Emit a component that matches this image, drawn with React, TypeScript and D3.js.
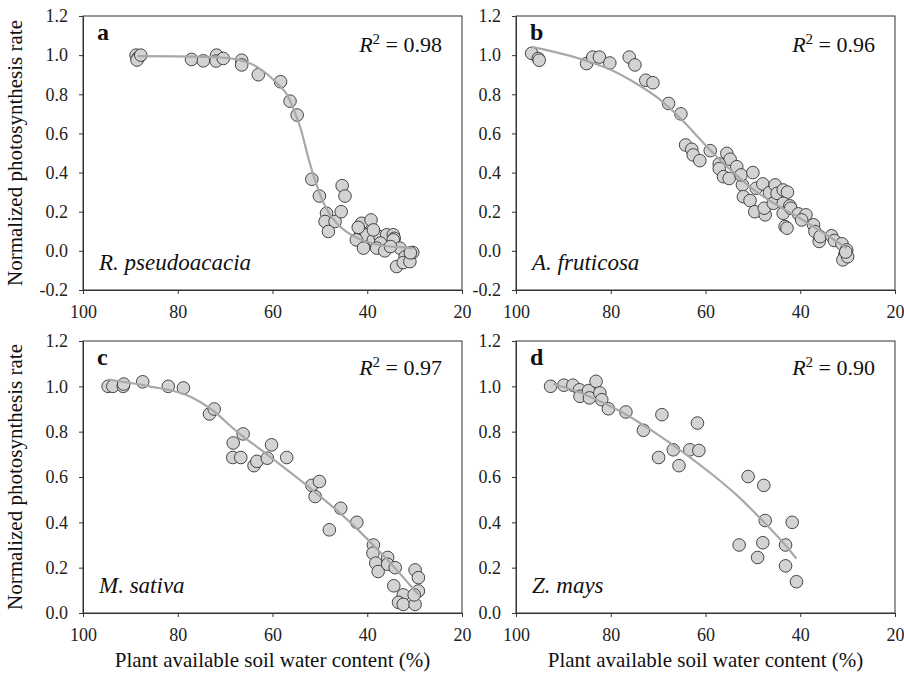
import React, { useEffect, useRef } from 'react';
import * as d3 from 'd3';

// x: plant available soil water content (%), y: normalized photosynthesis rate
const xTicks = [100, 80, 60, 40, 20];
const yTicksTop = [-0.2, 0, 0.2, 0.4, 0.6, 0.8, 1.0, 1.2];
const yTicksBottom = [0, 0.2, 0.4, 0.6, 0.8, 1.0, 1.2];

const pointsA = [
  [88.8, 1.0], [88.4, 0.985], [88.0, 0.995], [88.6, 0.975], [87.8, 1.0],
  [77.1, 0.978], [74.6, 0.971], [71.8, 1.0], [71.9, 0.97], [70.4, 0.983],
  [66.5, 0.974], [66.5, 0.95], [63.0, 0.9], [58.3, 0.864], [56.3, 0.765],
  [54.8, 0.694], [51.7, 0.366], [50.1, 0.28], [45.3, 0.333], [44.7, 0.28],
  [48.6, 0.192], [48.9, 0.15], [46.8, 0.15], [48.2, 0.099], [45.5, 0.2],
  [41.2, 0.141], [39.2, 0.158], [41.4, 0.099], [40.1, 0.082], [42.3, 0.056],
  [40.8, 0.014], [38.7, 0.056], [37.3, 0.073], [35.9, 0.082], [34.5, 0.082],
  [34.3, 0.064], [37.2, 0.04], [38.0, 0.014], [36.3, 0.0], [34.5, 0.056],
  [33.1, 0.014], [32.0, -0.03], [33.8, -0.08], [32.4, -0.06], [31.0, -0.055],
  [30.4, -0.008], [30.9, -0.01], [35.1, 0.022], [38.7, 0.107], [41.9, 0.12],
];
const fitA = [
  [88.5, 0.995], [80, 0.994], [72, 0.99], [67, 0.975], [64, 0.95], [61.5, 0.91],
  [59, 0.855], [57, 0.8], [55.5, 0.72], [54, 0.62], [52.5, 0.48], [51, 0.36],
  [49.5, 0.26], [48, 0.19], [46.4, 0.14], [44.5, 0.1], [42, 0.065],
  [38.7, 0.036], [34, 0.02], [30.4, 0.014],
];

const pointsB = [
  [96.7, 1.009], [95.3, 0.983], [95.1, 0.974], [85.1, 0.957], [83.8, 0.99],
  [82.4, 0.99], [80.2, 0.96], [76.1, 0.99], [74.9, 0.95], [72.6, 0.872],
  [71.1, 0.859], [67.8, 0.753], [65.2, 0.7], [64.2, 0.541], [62.9, 0.519],
  [62.6, 0.49], [61.2, 0.461], [59.0, 0.512], [55.5, 0.498], [54.8, 0.468],
  [57.1, 0.444], [57.1, 0.42], [56.2, 0.379], [55.0, 0.37], [53.4, 0.43],
  [52.2, 0.337], [52.5, 0.388], [50.0, 0.4], [52.0, 0.277], [50.6, 0.257],
  [49.3, 0.32], [47.9, 0.342], [49.6, 0.2], [47.4, 0.184], [47.6, 0.218],
  [46.5, 0.298], [45.7, 0.243], [45.3, 0.337], [44.9, 0.294], [43.6, 0.311],
  [42.7, 0.3], [43.6, 0.243], [42.2, 0.23], [43.6, 0.192], [43.2, 0.124],
  [42.8, 0.116], [42.0, 0.218], [40.4, 0.189], [38.8, 0.184], [39.7, 0.158],
  [37.2, 0.133], [36.9, 0.099], [36.0, 0.048], [35.8, 0.073], [33.4, 0.077],
  [32.8, 0.053], [31.2, 0.036], [30.2, 0.005], [30.6, -0.02], [31.0, -0.046],
  [30.0, -0.03], [30.4, -0.006],
];
const fitB = [
  [96.7, 1.042], [90, 1.005], [85, 0.97], [80, 0.925], [75, 0.86], [70, 0.78],
  [65, 0.67], [60, 0.54], [55, 0.42], [50, 0.315], [45, 0.235], [40, 0.165],
  [35, 0.09], [30.2, 0.014],
];

const pointsC = [
  [94.7, 1.0], [93.7, 1.0], [91.5, 1.0], [91.4, 1.01], [87.4, 1.02],
  [82.0, 1.0], [78.8, 0.993], [73.3, 0.878], [72.3, 0.9], [68.3, 0.75],
  [66.2, 0.79], [68.4, 0.686], [66.7, 0.686], [63.9, 0.65], [63.3, 0.669],
  [61.1, 0.683], [60.2, 0.742], [57.0, 0.686], [51.7, 0.563], [50.1, 0.58],
  [51.0, 0.514], [45.6, 0.462], [48.0, 0.367], [42.2, 0.4], [38.7, 0.3],
  [38.8, 0.264], [38.2, 0.22], [37.7, 0.183], [35.7, 0.245], [35.7, 0.215],
  [34.1, 0.2], [34.4, 0.12], [32.4, 0.08], [33.4, 0.047], [32.4, 0.038],
  [29.9, 0.19], [29.2, 0.156], [29.2, 0.097], [29.9, 0.038], [30.1, 0.08],
];
const fitC = [
  [94.7, 1.03], [86, 1.0], [77.4, 0.955], [73, 0.9], [67.5, 0.8], [61.2, 0.7],
  [52, 0.55], [43.6, 0.4], [36, 0.24], [29.2, 0.08],
];

const pointsD = [
  [92.7, 1.0], [89.9, 1.005], [88.0, 1.005], [86.6, 0.985], [86.5, 0.956],
  [84.7, 0.981], [84.5, 0.949], [83.1, 1.022], [82.3, 0.971], [81.9, 0.941],
  [80.5, 0.901], [76.8, 0.887], [73.1, 0.806], [69.2, 0.875], [69.9, 0.686],
  [66.8, 0.72], [65.6, 0.65], [63.3, 0.72], [61.4, 0.717], [61.7, 0.838],
  [51.0, 0.602], [47.7, 0.563], [47.4, 0.408], [41.7, 0.4], [52.9, 0.3],
  [47.9, 0.31], [49.0, 0.245], [43.1, 0.3], [43.1, 0.208], [40.8, 0.138],
];
const fitD = [
  [92.1, 1.01], [85, 0.96], [78, 0.89], [71, 0.8], [64, 0.698], [58.5, 0.61],
  [53.4, 0.52], [47.8, 0.404], [44, 0.32], [40.8, 0.24],
];

const FONT = '"Liberation Serif", "Times New Roman", Times, "DejaVu Serif", serif';

const panels = [
  { letter: 'a', species: 'R. pseudoacacia', r2: '0.98', points: pointsA, fit: fitA,
    left: 83, top: 16, width: 379, height: 274, yTicks: yTicksTop },
  { letter: 'b', species: 'A. fruticosa', r2: '0.96', points: pointsB, fit: fitB,
    left: 516, top: 16, width: 379, height: 274, yTicks: yTicksTop },
  { letter: 'c', species: 'M. sativa', r2: '0.97', points: pointsC, fit: fitC,
    left: 83, top: 341, width: 379, height: 272, yTicks: yTicksBottom },
  { letter: 'd', species: 'Z. mays', r2: '0.90', points: pointsD, fit: fitD,
    left: 516, top: 341, width: 379, height: 272, yTicks: yTicksBottom },
];

function drawPanel(svg: any, p: any) {
  const x = d3.scaleLinear().domain([100, 20]).range([0, p.width]);
  const yt = p.yTicks;
  const y = d3.scaleLinear().domain([yt[0], yt[yt.length - 1]]).range([p.height, 0]);

  const g = svg.append('g').attr('transform', `translate(${p.left},${p.top})`);

  // frame
  g.append('rect')
    .attr('width', p.width)
    .attr('height', p.height)
    .attr('fill', 'none')
    .attr('stroke', '#333')
    .attr('stroke-width', 1);

  const xAxis = g.append('g')
    .attr('transform', `translate(0,${p.height})`)
    .call(d3.axisBottom(x).tickValues(xTicks).tickSize(4).tickSizeOuter(0).tickPadding(11)
      .tickFormat((d: any) => String(d)));
  const yAxis = g.append('g')
    .call(d3.axisLeft(y).tickValues(yt).tickSize(4).tickSizeOuter(0).tickPadding(11)
      .tickFormat((d: any) => (+d).toFixed(1)));

  [xAxis, yAxis].forEach(ax => {
    ax.attr('font-family', null).attr('font-size', null);
    ax.select('.domain').attr('stroke', '#333');
    ax.selectAll('line').attr('stroke', '#333');
    ax.selectAll('text')
      .attr('fill', '#222')
      .attr('font-family', FONT)
      .attr('font-size', 18);
  });

  const line = d3.line()
    .x((d: any) => x(d[0]))
    .y((d: any) => y(d[1]))
    .curve(d3.curveMonotoneX);

  g.selectAll('circle.pt')
    .data(p.points)
    .enter()
    .append('circle')
    .attr('class', 'pt')
    .attr('cx', (d: any) => x(d[0]))
    .attr('cy', (d: any) => y(d[1]))
    .attr('r', 6.3)
    .attr('fill', '#d3d3d3')
    .attr('stroke', '#333')
    .attr('stroke-width', 0.9);

  g.append('path')
    .datum(p.fit)
    .attr('d', line)
    .attr('fill', 'none')
    .attr('stroke', '#a8a8a8')
    .attr('stroke-width', 2.2);

  g.append('text')
    .attr('x', 14)
    .attr('y', 24)
    .attr('font-family', FONT)
    .attr('font-size', 24)
    .attr('font-weight', 'bold')
    .attr('fill', '#111')
    .text(p.letter);

  const r2 = g.append('text')
    .attr('x', p.width - 20)
    .attr('y', p.letter === 'a' || p.letter === 'b' ? 36 : 34)
    .attr('text-anchor', 'end')
    .attr('font-family', FONT)
    .attr('font-size', 22)
    .attr('fill', '#111');
  r2.append('tspan').attr('font-style', 'italic').text('R');
  r2.append('tspan').attr('dy', -8).attr('font-size', 15).text('2');
  r2.append('tspan').attr('dy', 8).text(' = ' + p.r2);

  g.append('text')
    .attr('x', 16)
    .attr('y', p.height - 20)
    .attr('font-family', FONT)
    .attr('font-size', 23)
    .attr('font-style', 'italic')
    .attr('fill', '#111')
    .text(p.species);
}

export default function App() {
  const ref = useRef<SVGSVGElement | null>(null);

  useEffect(() => {
    const svg = d3.select(ref.current);
    svg.selectAll('*').remove();
    svg.append('rect').attr('width', 904).attr('height', 676).attr('fill', '#fff');

    panels.forEach(p => drawPanel(svg, p));

    // y axis titles
    [153, 477].forEach(cy => {
      svg.append('text')
        .attr('transform', `translate(22,${cy}) rotate(-90)`)
        .attr('text-anchor', 'middle')
        .attr('font-family', FONT)
        .attr('font-size', 21)
        .attr('fill', '#111')
        .text('Normalized photosynthesis rate');
    });

    // x axis titles
    [272.5, 705.5].forEach(cx => {
      svg.append('text')
        .attr('x', cx)
        .attr('y', 667)
        .attr('text-anchor', 'middle')
        .attr('font-family', FONT)
        .attr('font-size', 21)
        .attr('fill', '#111')
        .text('Plant available soil water content (%)');
    });
  }, []);

  return (
    <svg
      ref={ref}
      width={904}
      height={676}
      style={{ position: 'absolute', left: 0, top: 0, display: 'block' }}
    />
  );
}
